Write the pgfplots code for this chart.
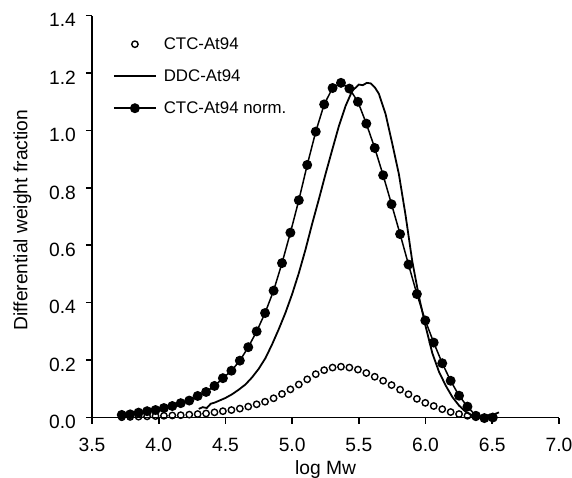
\documentclass[border=0pt]{standalone}
\usepackage{fontspec}
\setmainfont{Liberation Sans}
\usepackage{pgfplots}
\pgfplotsset{compat=1.18}

\begin{document}
\begin{tikzpicture}[font=\fontsize{19.3}{23}\selectfont]
\begin{axis}[
    at={(0,0)}, anchor=south west,
    scale only axis,
    width=467bp, height=401.8bp,
    xmin=3.5, xmax=7, ymin=0, ymax=1.4,
    xtick={3.5,4.0,4.5,5.0,5.5,6.0,6.5,7.0},
    ytick={0,0.2,0.4,0.6,0.8,1.0,1.2,1.4},
    axis lines=left,
    axis line style={-, line width=1.6bp},
    tick align=outside,
    major tick length=6bp,
    tick style={line width=1.6bp, black},
    clip=false,
    /pgf/number format/assume math mode=true,
    x tick label style={/pgf/number format/fixed, /pgf/number format/fixed zerofill,
        /pgf/number format/precision=1, inner sep=0pt, anchor=north, yshift=-14.5bp},
    y tick label style={/pgf/number format/fixed, /pgf/number format/fixed zerofill,
        /pgf/number format/precision=1, inner sep=0pt, anchor=east, xshift=-10bp, yshift=-4.5bp},
    xlabel={log Mw},
    xlabel style={at={(axis description cs:0.5,-0.1431)}, anchor=base, inner sep=0pt},
    ylabel={Differential weight fraction},
    ylabel style={at={(axis description cs:-0.1385,0.4915)}, anchor=base, inner sep=0pt},
    legend style={draw=none, fill=none, at={(axis description cs:0.045,0.9477)},
        anchor=north west, inner sep=0pt, outer sep=0pt, row sep=17bp, column sep=7bp,
        font=\fontsize{16.9}{20}\selectfont,
        nodes={inner sep=0pt, text height=12.5bp, text depth=2.5bp}},
    legend cell align=left,
    legend image code/.code={\draw[mark repeat=2,mark phase=2,#1] plot coordinates {(0bp,0bp) (21bp,0bp) (42bp,0bp)};},
]

% CTC-At94 (open circles)
\addplot[only marks, mark=o, mark size=3.2bp, mark options={line width=1.4bp, fill=white}, black]
coordinates {
(3.723,0.001)(3.786,0.002)(3.849,0.003)(3.913,0.004)(3.976,0.005)(4.039,0.006)
(4.102,0.007)(4.165,0.008)(4.229,0.010)(4.292,0.012)(4.355,0.014)(4.418,0.018)
(4.481,0.022)(4.545,0.026)(4.608,0.031)(4.671,0.038)(4.734,0.046)(4.797,0.055)
(4.861,0.067)(4.924,0.082)(4.987,0.098)(5.050,0.115)(5.113,0.133)(5.177,0.151)
(5.240,0.165)(5.303,0.174)(5.366,0.177)(5.429,0.174)(5.493,0.167)(5.556,0.155)
(5.619,0.142)(5.682,0.128)(5.745,0.113)(5.809,0.097)(5.872,0.081)(5.935,0.065)
(5.998,0.051)(6.061,0.040)(6.125,0.029)(6.188,0.019)(6.251,0.012)(6.314,0.006)
(6.377,0.001)
};

% DDC-At94 (line)
\addplot[black, line width=1.8bp, no marks]
coordinates {
(4.30,0.030)(4.33,0.036)(4.36,0.033)(4.39,0.048)(4.42,0.052)(4.45,0.058)
(4.50,0.068)(4.55,0.081)(4.60,0.097)(4.65,0.115)(4.70,0.140)(4.75,0.170)
(4.80,0.207)(4.85,0.255)(4.90,0.308)(4.95,0.365)(5.00,0.430)(5.05,0.503)
(5.10,0.585)(5.15,0.675)(5.20,0.760)(5.25,0.848)(5.30,0.932)(5.35,1.015)
(5.40,1.085)(5.45,1.138)(5.50,1.160)(5.53,1.158)(5.56,1.166)(5.59,1.164)
(5.62,1.150)(5.65,1.128)(5.70,1.058)(5.75,0.955)(5.80,0.848)(5.85,0.705)
(5.90,0.545)(5.95,0.422)(6.00,0.318)(6.05,0.225)(6.10,0.160)(6.15,0.112)
(6.20,0.072)(6.25,0.042)(6.30,0.020)(6.35,0.007)(6.40,0.001)(6.45,0.003)
(6.48,0.010)(6.50,-0.005)(6.52,0.012)(6.55,0.018)
};

% CTC-At94 norm. (filled circles with line)
\addplot[black, line width=1.5bp, mark=*, mark size=4.2bp, mark options={solid}]
coordinates {
(3.723,0.009)(3.786,0.011)(3.849,0.017)(3.913,0.022)(3.976,0.026)(4.039,0.033)
(4.102,0.040)(4.165,0.050)(4.229,0.059)(4.292,0.075)(4.355,0.089)(4.418,0.110)
(4.481,0.137)(4.545,0.163)(4.608,0.198)(4.671,0.245)(4.734,0.300)(4.797,0.364)
(4.861,0.442)(4.924,0.538)(4.987,0.644)(5.050,0.757)(5.113,0.880)(5.177,0.996)
(5.240,1.091)(5.303,1.148)(5.366,1.166)(5.429,1.146)(5.493,1.100)(5.556,1.024)
(5.619,0.939)(5.682,0.844)(5.745,0.743)(5.809,0.639)(5.872,0.533)(5.935,0.430)
(5.998,0.338)(6.061,0.261)(6.125,0.189)(6.188,0.128)(6.251,0.076)(6.314,0.038)
(6.377,0.006)(6.441,-0.002)(6.504,0.000)
};

\legend{CTC-At94, DDC-At94, CTC-At94 norm.}
\end{axis}
\pgfresetboundingbox
\path[use as bounding box] (-92bp,-60.5bp) rectangle (480bp,417.5bp);
\end{tikzpicture}
\end{document}
